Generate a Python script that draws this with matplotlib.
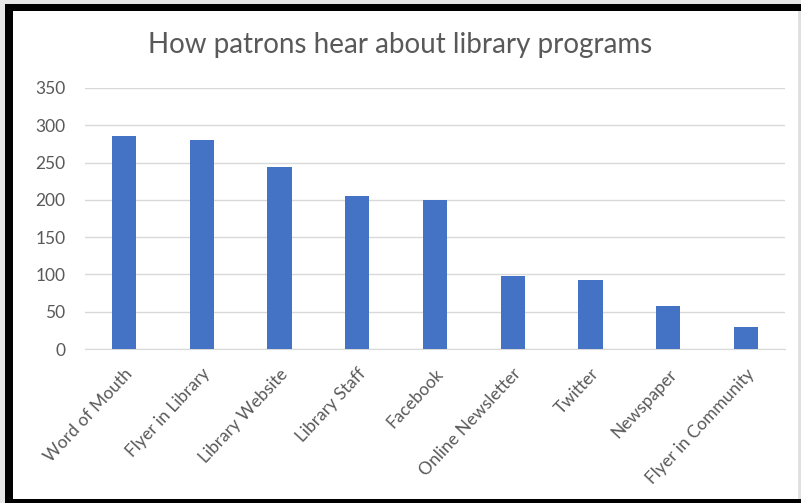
import matplotlib
matplotlib.use("Agg")
import matplotlib.pyplot as plt
from matplotlib.patches import Rectangle

categories = ["Word of Mouth", "Flyer in Library", "Library Website", "Library Staff",
              "Facebook", "Online Newsletter", "Twitter", "Newspaper", "Flyer in Community"]
values = [286, 280, 244, 205, 200, 98, 93, 57, 30]
yticks = [0, 50, 100, 150, 200, 250, 300, 350]

plt.rcParams['font.family'] = ['Lato', 'DejaVu Sans']
W, H = 801, 503
fig = plt.figure(figsize=(W / 100, H / 100), dpi=100)
fig.patch.set_facecolor("white")

left, right = 85 / W, 785 / W
bottom, top = 1 - 349 / H, 1 - 88 / H
ax = fig.add_axes([left, bottom, right - left, top - bottom])

x = list(range(len(categories)))
ax.bar(x, values, width=0.31, color="#4472C4", zorder=3)
ax.set_xlim(-0.5, len(categories) - 0.5)
ax.set_ylim(0, 350)
ax.set_yticks(yticks)
ax.set_yticklabels([str(t) for t in yticks], color="#595959", fontsize=12.5)
ax.set_xticks(x)
ax.set_xticklabels(categories, rotation=47, ha="right", rotation_mode="anchor",
                   color="#595959", fontsize=12.5)
ax.tick_params(axis="y", length=0, pad=14)
ax.tick_params(axis="x", length=0, pad=12)
ax.grid(axis="y", color="#D9D9D9", linewidth=1, zorder=0)
for s in ["top", "right", "left"]:
    ax.spines[s].set_visible(False)
ax.spines["bottom"].set_color("#D9D9D9")

fig.text(0.5, 1 - 45 / H, "How patrons hear about library programs",
         ha="center", va="center", fontsize=20, color="#595959")

def band(x0, y0, w, h, color):
    fig.patches.append(Rectangle((x0 / W, 1 - (y0 + h) / H), w / W, h / H,
                                 transform=fig.transFigure, facecolor=color,
                                 edgecolor="none", zorder=10))

band(0, 0, W, 4, "#E6E6E6")
band(0, 0, 5, H, "#E6E6E6")
band(5, 4, W - 5, 7, "black")
band(5, 4, 8, H - 4, "black")
band(5, 499, W - 5, 4, "black")
band(W - 3, 11, 3, H - 15, "#E0E0E0")

fig.savefig("out.png", dpi=100)
